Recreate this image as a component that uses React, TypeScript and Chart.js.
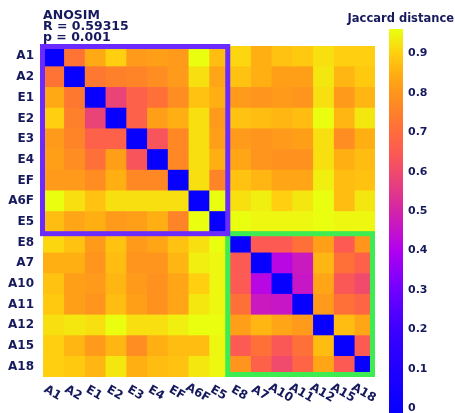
import React, { useEffect, useRef } from 'react';
import { Chart, registerables } from 'chart.js';

Chart.register(...registerables);

// ---- data ----
const labels = ['A1', 'A2', 'E1', 'E2', 'E3', 'E4', 'EF', 'A6F', 'E5', 'E8', 'A7', 'A10', 'A11', 'A12', 'A15', 'A18'];

const dA1 = [0, 0.72, 0.84, 0.9, 0.81, 0.82, 0.81, 0.96, 0.87, 0.91, 0.85, 0.88, 0.89, 0.92, 0.9, 0.9];
const dA2 = [0.72, 0, 0.73, 0.75, 0.76, 0.78, 0.81, 0.92, 0.83, 0.88, 0.85, 0.82, 0.82, 0.93, 0.86, 0.89];
const dE1 = [0.84, 0.73, 0, 0.58, 0.67, 0.71, 0.78, 0.88, 0.85, 0.81, 0.8, 0.81, 0.8, 0.92, 0.81, 0.86];
const dE2 = [0.9, 0.75, 0.58, 0, 0.67, 0.82, 0.85, 0.92, 0.81, 0.88, 0.87, 0.86, 0.87, 0.96, 0.86, 0.93];
const dE3 = [0.81, 0.76, 0.67, 0.67, 0, 0.63, 0.77, 0.92, 0.82, 0.81, 0.8, 0.81, 0.82, 0.92, 0.78, 0.85];
const dE4 = [0.82, 0.78, 0.71, 0.82, 0.63, 0, 0.77, 0.92, 0.85, 0.83, 0.8, 0.79, 0.79, 0.92, 0.85, 0.87];
const dEF = [0.81, 0.81, 0.78, 0.85, 0.77, 0.77, 0, 0.92, 0.76, 0.88, 0.86, 0.83, 0.83, 0.94, 0.87, 0.88];
const dA6F = [0.96, 0.92, 0.88, 0.92, 0.92, 0.92, 0.92, 0, 0.96, 0.92, 0.94, 0.9, 0.93, 0.96, 0.87, 0.93];
const dE5 = [0.87, 0.83, 0.85, 0.81, 0.82, 0.85, 0.76, 0.96, 0, 0.96, 0.95, 0.95, 0.95, 0.96, 0.95, 0.95];
const dE8 = [0.91, 0.88, 0.81, 0.88, 0.81, 0.83, 0.88, 0.92, 0.96, 0, 0.65, 0.65, 0.71, 0.82, 0.65, 0.8];
const dA7 = [0.85, 0.85, 0.8, 0.87, 0.8, 0.8, 0.86, 0.94, 0.95, 0.65, 0, 0.42, 0.47, 0.86, 0.71, 0.67];
const dA10 = [0.88, 0.82, 0.81, 0.86, 0.81, 0.79, 0.83, 0.9, 0.95, 0.65, 0.42, 0, 0.46, 0.83, 0.64, 0.6];
const dA11 = [0.89, 0.82, 0.8, 0.87, 0.82, 0.79, 0.83, 0.93, 0.95, 0.71, 0.47, 0.46, 0, 0.81, 0.71, 0.68];
const dA12 = [0.92, 0.93, 0.92, 0.96, 0.92, 0.92, 0.94, 0.96, 0.96, 0.82, 0.86, 0.83, 0.81, 0, 0.87, 0.83];
const dA15 = [0.9, 0.86, 0.81, 0.86, 0.78, 0.85, 0.87, 0.87, 0.95, 0.65, 0.71, 0.64, 0.71, 0.87, 0, 0.65];
const dA18 = [0.9, 0.89, 0.86, 0.93, 0.85, 0.87, 0.88, 0.93, 0.95, 0.8, 0.67, 0.6, 0.68, 0.83, 0.65, 0];

const distanceRows = [dA1, dA2, dE1, dE2, dE3, dE4, dEF, dA6F, dE5, dE8, dA7, dA10, dA11, dA12, dA15, dA18];

const statLines = ['ANOSIM', 'R = 0.59315', 'p = 0.001'];
const colorbarTitle = 'Jaccard distance';
const colorbarTicks = [0, 0.1, 0.2, 0.3, 0.4, 0.5, 0.6, 0.7, 0.8, 0.9];
const colorbarMin = -0.012;
const colorbarMax = 0.962;
const groupOneSize = 9; // A1..E5
// ---- styles ----
const navy = '#161a5c';
const FONT = '"DejaVu Sans", Verdana, sans-serif';
const colorStops: [number, string][] = [
  [0.0, '#0800ff'],
  [0.1, '#2000ff'],
  [0.2, '#3c00ff'],
  [0.3, '#7000ff'],
  [0.4, '#b000f0'],
  [0.45, '#c412cc'],
  [0.5, '#d224a8'],
  [0.55, '#e23888'],
  [0.6, '#f04a6c'],
  [0.65, '#fc5a52'],
  [0.7, '#ff6c3c'],
  [0.75, '#ff802a'],
  [0.8, '#ff951c'],
  [0.85, '#ffaf12'],
  [0.9, '#ffcf10'],
  [0.96, '#eaff10'],
];

function hexToRgb(h: string) {
  const n = parseInt(h.slice(1), 16);
  return [(n >> 16) & 255, (n >> 8) & 255, n & 255];
}

function colorFor(v: number) {
  if (v <= colorStops[0][0]) return colorStops[0][1];
  for (let i = 1; i < colorStops.length; i++) {
    if (v <= colorStops[i][0]) {
      const [v0, c0] = colorStops[i - 1];
      const [v1, c1] = colorStops[i];
      const t = (v - v0) / (v1 - v0);
      const a = hexToRgb(c0);
      const b = hexToRgb(c1);
      const m = a.map((x, k) => Math.round(x + (b[k] - x) * t));
      return `rgb(${m[0]},${m[1]},${m[2]})`;
    }
  }
  return colorStops[colorStops.length - 1][1];
}

const overlayPlugin = {
  id: 'overlay',
  afterDatasetsDraw(chart: any) {
    const { ctx, chartArea } = chart;
    const xs = chart.scales.x;
    const n = labels.length;
    const h = (chartArea.bottom - chartArea.top) / n;
    const yb = (k: number) => chartArea.top + k * h;
    const x0 = xs.getPixelForValue(0);
    const xg = xs.getPixelForValue(groupOneSize);
    const xn = xs.getPixelForValue(n);
    ctx.save();
    ctx.lineWidth = 5;
    // green box (second group)
    ctx.strokeStyle = '#3cec50';
    ctx.strokeRect(xg - 2, yb(groupOneSize) + 1.5, xn - 2.5 - (xg - 2), chartArea.bottom - 2.5 - (yb(groupOneSize) + 1.5));
    // purple box (first group)
    ctx.strokeStyle = '#6b2bff';
    ctx.strokeRect(x0 - 0.5, chartArea.top + 0.5, xg - 2 - (x0 - 0.5), yb(groupOneSize) + 1.5 - (chartArea.top + 0.5));
    ctx.restore();
  },
  afterDraw(chart: any) {
    const { ctx, chartArea } = chart;
    const xs = chart.scales.x;
    ctx.save();
    ctx.fillStyle = navy;
    ctx.font = `bold 12px ${FONT}`;
    // rotated x labels
    labels.forEach((lab, i) => {
      const cx = xs.getPixelForValue(i + 0.5);
      ctx.save();
      ctx.translate(cx - 1, chartArea.bottom + 16);
      ctx.rotate(Math.PI / 6);
      ctx.textAlign = 'center';
      ctx.textBaseline = 'middle';
      ctx.fillText(lab, 0, 0);
      ctx.restore();
    });
    // stats text
    ctx.font = `bold 12.5px ${FONT}`;
    ctx.textAlign = 'left';
    ctx.textBaseline = 'alphabetic';
    statLines.forEach((t, i) => {
      ctx.fillText(t, chartArea.left, 19 + i * 11);
    });
    ctx.restore();
  },
};

const colorbarTitlePlugin = {
  id: 'cbTitle',
  afterDraw(chart: any) {
    const { ctx } = chart;
    ctx.save();
    ctx.fillStyle = navy;
    ctx.font = `bold 11.5px ${FONT}`;
    ctx.textAlign = 'right';
    ctx.textBaseline = 'alphabetic';
    ctx.fillText(colorbarTitle, chart.width - 1, 21.5);
    ctx.restore();
  },
};

export default function App() {
  const heatRef = useRef<HTMLCanvasElement>(null);
  const barRef = useRef<HTMLCanvasElement>(null);

  useEffect(() => {
    const heat = new Chart(heatRef.current as HTMLCanvasElement, {
      type: 'bar',
      data: {
        labels,
        datasets: labels.map((col, j) => ({
          label: col,
          data: labels.map(() => 1),
          backgroundColor: distanceRows.map((r) => colorFor(r[j])),
          borderWidth: 0,
          barPercentage: 1,
          categoryPercentage: 1,
        })),
      },
      options: {
        indexAxis: 'y',
        responsive: false,
        animation: false,
        events: [],
        layout: { padding: { left: 5, top: 46, right: 80, bottom: 36 } },
        plugins: { legend: { display: false }, tooltip: { enabled: false }, title: { display: false } },
        scales: {
          x: {
            stacked: true,
            min: 0,
            max: labels.length,
            grid: { display: false, drawTicks: false },
            border: { display: false },
            ticks: { display: false },
            afterFit: (s: any) => {
              s.height = 0;
              s.paddingLeft = 0;
              s.paddingRight = 0;
            },
          },
          y: {
            stacked: true,
            grid: { display: false, drawTicks: false },
            border: { display: false },
            ticks: { color: navy, font: { family: FONT, weight: 'bold', size: 12 }, padding: 9 },
            afterFit: (s: any) => {
              s.width = 38;
            },
          },
        },
      } as any,
      plugins: [overlayPlugin],
    });

    const bar = new Chart(barRef.current as HTMLCanvasElement, {
      type: 'bar',
      data: {
        labels: ['scale'],
        datasets: [
          {
            data: [[colorbarMin, colorbarMax]] as any,
            backgroundColor: (c: any) => {
              const ch = c.chart;
              const ys = ch.scales.y;
              if (!ch.chartArea || !ys) return '#ffaa00';
              const g = ch.ctx.createLinearGradient(0, ys.getPixelForValue(colorbarMin), 0, ys.getPixelForValue(colorbarMax));
              colorStops.forEach(([v, col]) => {
                g.addColorStop(Math.min(1, Math.max(0, (v - colorbarMin) / (colorbarMax - colorbarMin))), col);
              });
              g.addColorStop(1, colorStops[colorStops.length - 1][1]);
              return g;
            },
            borderWidth: 0,
            barPercentage: 1,
            categoryPercentage: 1,
          },
        ],
      },
      options: {
        responsive: false,
        animation: false,
        events: [],
        layout: { padding: { left: 49, right: 0, top: 29, bottom: 0 } },
        plugins: { legend: { display: false }, tooltip: { enabled: false } },
        scales: {
          x: { display: false },
          y: {
            position: 'right',
            min: colorbarMin,
            max: colorbarMax,
            grid: { display: false, drawTicks: false },
            border: { display: false },
            afterBuildTicks: (s: any) => {
              s.ticks = colorbarTicks.map((v) => ({ value: v }));
            },
            ticks: {
              color: navy,
              font: { family: FONT, weight: 'bold', size: 11 },
              padding: 5,
              callback: (v: any) => (Number(v) === 0 ? '0' : Number(v).toFixed(1)),
            },
            afterFit: (s: any) => {
              s.width = 52;
              s.paddingTop = 0;
              s.paddingBottom = 0;
            },
          },
        },
      } as any,
      plugins: [colorbarTitlePlugin],
    });

    return () => {
      heat.destroy();
      bar.destroy();
    };
  }, []);

  return (
    <div style={{ position: 'absolute', left: 0, top: 0, width: 455, height: 413, background: '#ffffff' }}>
      <canvas ref={heatRef} width={455} height={413} style={{ position: 'absolute', left: 0, top: 0, display: 'block' }} />
      <canvas ref={barRef} width={115} height={413} style={{ position: 'absolute', left: 340, top: 0, display: 'block' }} />
    </div>
  );
}
